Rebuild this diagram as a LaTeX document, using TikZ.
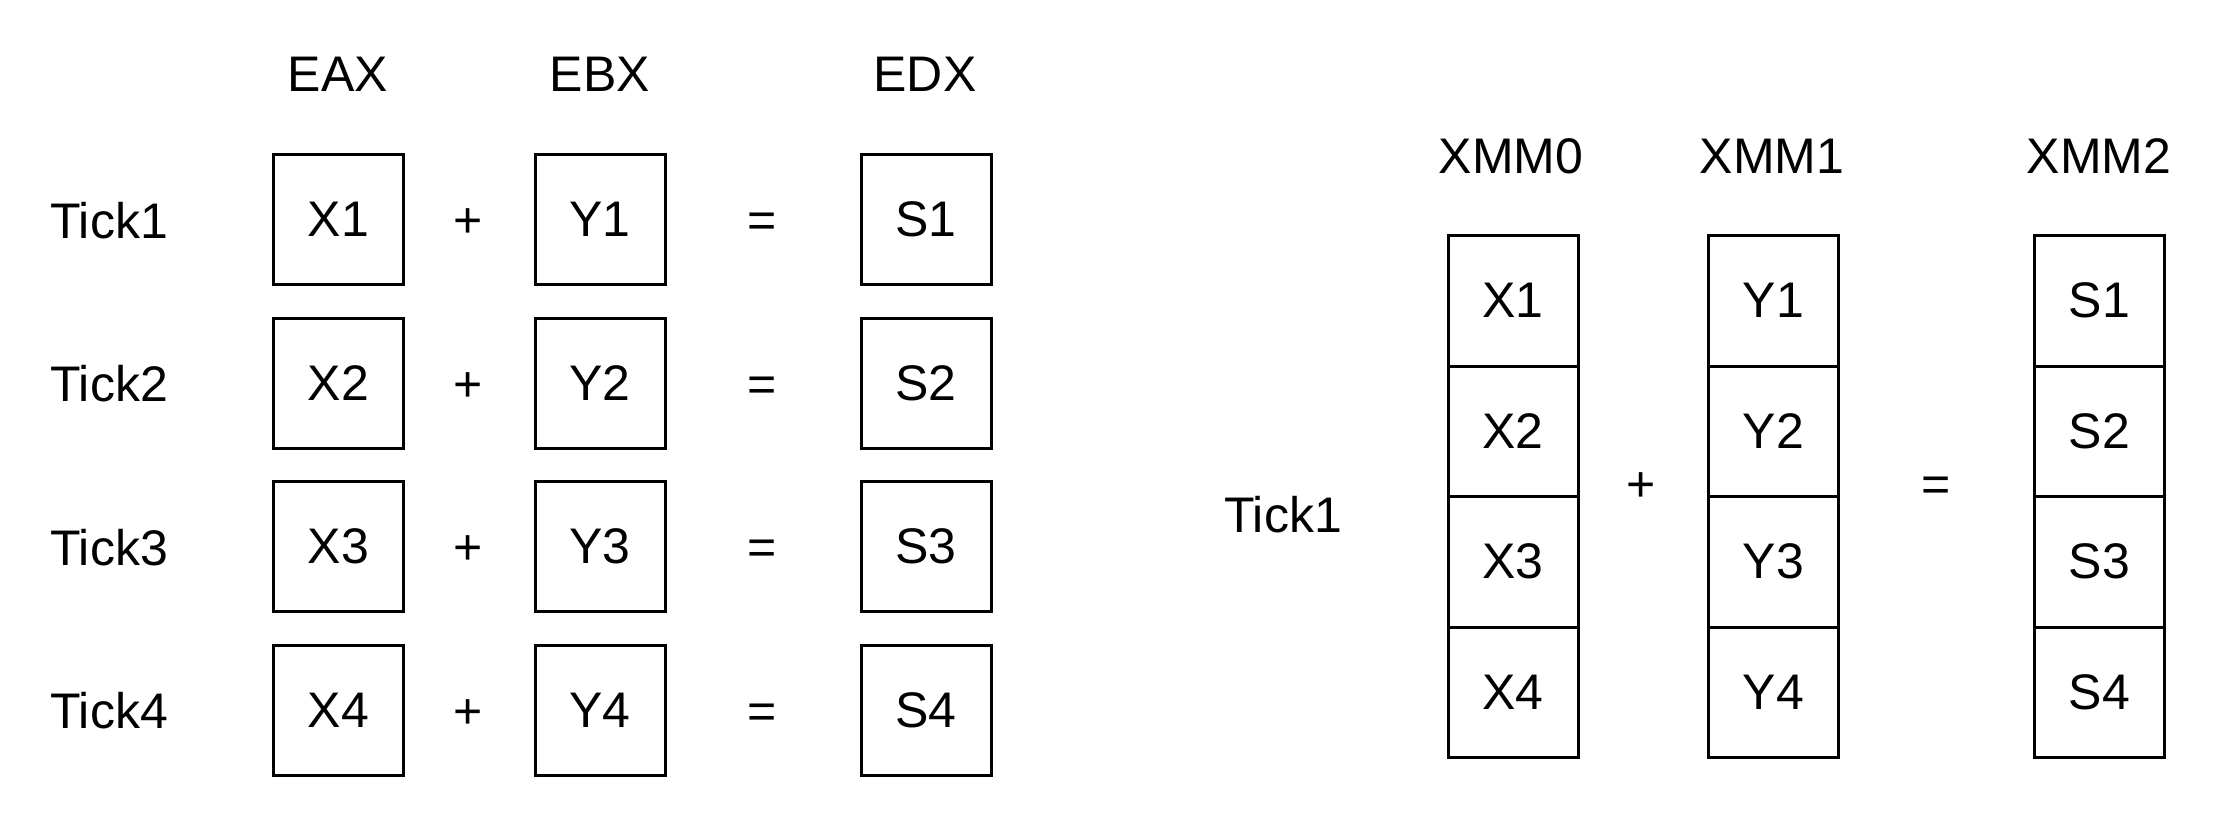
\documentclass[tikz,border=0pt]{standalone}
\usepackage{fontspec}
\setmainfont{Liberation Sans}
\begin{document}
\begin{tikzpicture}[x=1pt,y=-1pt,
  txt/.style={font=\fontsize{50}{60}\selectfont, inner sep=0pt, anchor=base},
  cellbox/.style={draw, line width=3pt, font=\fontsize{50}{60}\selectfont, inner sep=0pt, minimum width=130pt, minimum height=130pt},
  colcell/.style={draw, line width=3pt, font=\fontsize{50}{60}\selectfont, inner sep=0pt, minimum width=130pt, minimum height=130.5pt}]
\useasboundingbox (0,0) rectangle (2234,832);
% left part headers
\node[txt] (eax) at (338,92) {EAX};
\node[txt] (ebx) at (600,92) {EBX};
\node[txt] (edx) at (925,92) {EDX};
% rows
\foreach \i/\y in {1/219.5,2/383,3/546.5,4/710}{
  \node[txt, anchor=base west] (tick\i) at (50,\y+18.5) {Tick\i};
  \node[cellbox] (x\i) at (338.5,\y) {X\i};
  \node[txt] (p\i) at (468,\y+18) {+};
  \node[cellbox] (y\i) at (600,\y) {Y\i};
  \node[txt] (e\i) at (762,\y+18) {=};
  \node[cellbox] (s\i) at (926,\y) {S\i};
}
% right part
\node[txt] (xmm0) at (1511,173) {XMM0};
\node[txt] (xmm1) at (1772,173) {XMM1};
\node[txt] (xmm2) at (2099,173) {XMM2};
\node[txt, anchor=base west] (tickr) at (1224,532) {Tick1};
\node[txt] (pr) at (1641,501) {+};
\node[txt] (er) at (1936,501) {=};
\foreach \i/\y in {1/300.75,2/431.25,3/561.75,4/692.25}{
  \node[colcell] (vx\i) at (1513,\y) {X\i};
  \node[colcell] (vy\i) at (1773.5,\y) {Y\i};
  \node[colcell] (vs\i) at (2099.5,\y) {S\i};
}
\end{tikzpicture}
\end{document}
